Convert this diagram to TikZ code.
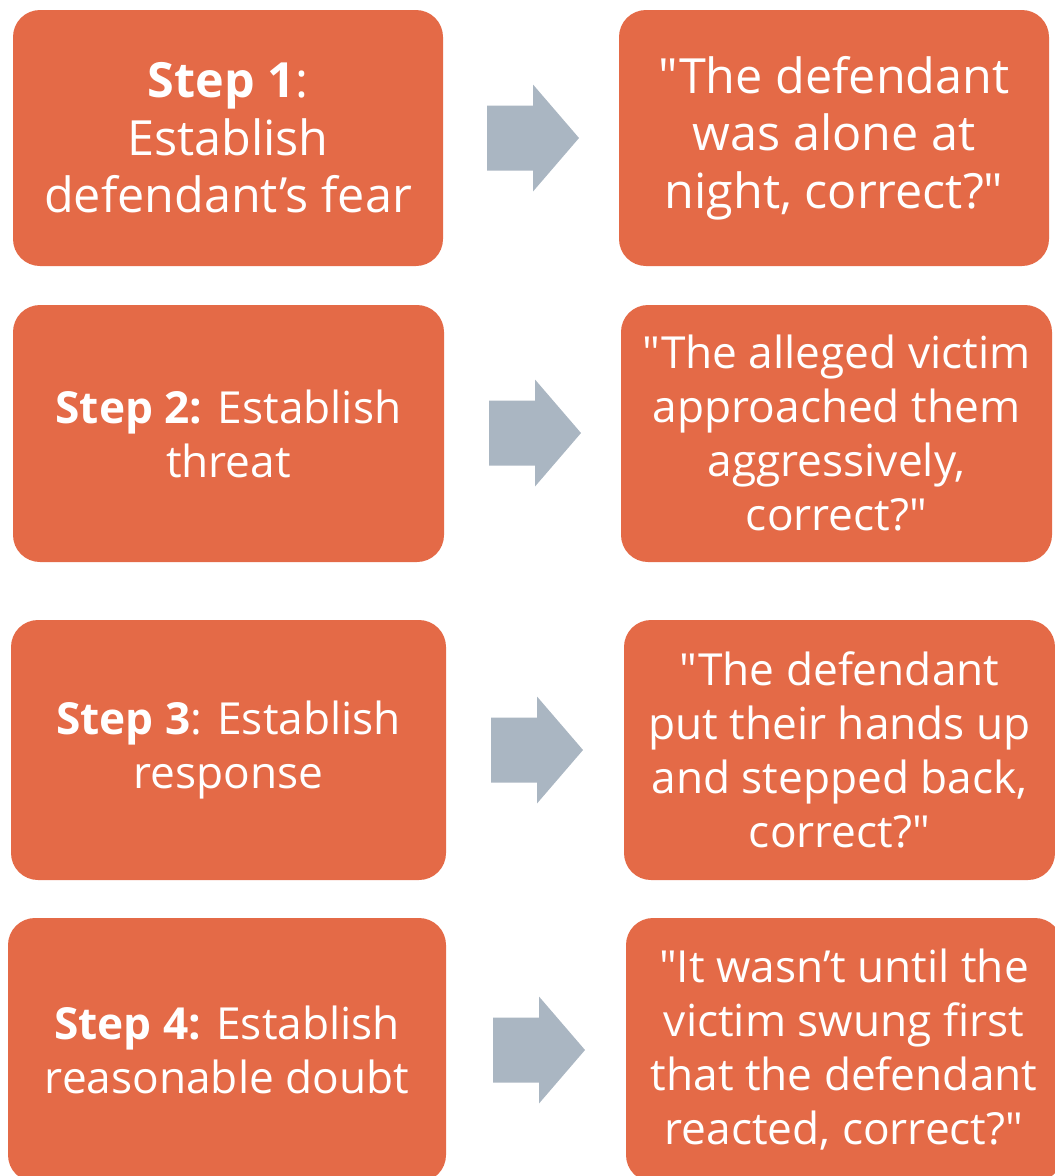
\documentclass[tikz,border=0pt]{standalone}
\usepackage{fontspec}
\setmainfont{Open Sans}[Ligatures=TeXOff]
\definecolor{boxor}{HTML}{E46A47}
\definecolor{arrg}{HTML}{AAB6C2}
\begin{document}
\begin{tikzpicture}[x=1pt,y=-1pt,
  stepbox/.style={fill=boxor,draw=none,rounded corners=27pt,text=white,align=center,inner sep=0pt},
  big/.style={font=\fontsize{48.5}{57.5}\selectfont},
  norm/.style={font=\fontsize{44.2}{54}\selectfont},
  blockarrow/.style={fill=arrg,draw=none}]
\useasboundingbox (0,0) rectangle (1055,1176);
\clip (0,0) rectangle (1055,1176);
% boxes
\node[stepbox,big,minimum width=430pt,minimum height=256pt] (L1) at (228,138) {\textbf{Step 1}:\\Establish\\defendant’s fear};
\node[stepbox,big,minimum width=430pt,minimum height=256pt] (R1) at (834,138) {"The defendant\\was alone at\\night, correct?"};
\node[stepbox,norm,minimum width=431pt,minimum height=257pt] (L2) at (228.5,433.5) {\textbf{Step 2:} Establish\\threat};
\node[stepbox,norm,minimum width=431pt,minimum height=257pt] (R2) at (836.5,433.5) {"The alleged victim\\approached them\\aggressively,\\correct?"};
\node[stepbox,norm,minimum width=435pt,minimum height=260pt] (L3) at (228.5,750) {\textbf{Step 3}: Establish\\response};
\node[stepbox,norm,minimum width=431pt,minimum height=260pt] (R3) at (839.5,750) {"The defendant\\put their hands up\\and stepped back,\\correct?"};
\node[stepbox,norm,minimum width=438pt,minimum height=264pt] (L4) at (227,1050) {\textbf{Step 4:} Establish\\reasonable doubt};
\node[stepbox,norm,minimum width=436pt,minimum height=264pt] (R4) at (844,1050) {"It wasn’t until the\\victim swung first\\that the defendant\\reacted, correct?"};
% block arrows
\foreach \n/\bx/\by in {a1/533/138, a2/535/433, a3/537/750, a4/539/1050}{
  \coordinate (\n) at (\bx,\by);
  \fill[blockarrow] ([shift={(-46,-32.5)}]\n) -- ([shift={(0,-32.5)}]\n) -- ([shift={(0,-53.5)}]\n) -- ([shift={(46,0)}]\n) -- ([shift={(0,53.5)}]\n) -- ([shift={(0,32.5)}]\n) -- ([shift={(-46,32.5)}]\n) -- cycle;
}
\end{tikzpicture}
\end{document}
